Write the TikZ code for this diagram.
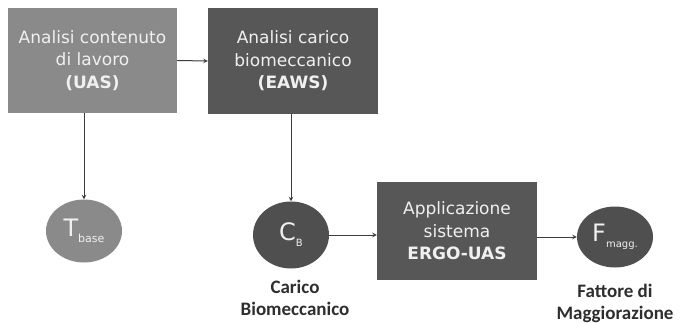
\documentclass[tikz,border=0pt]{standalone}
\usepackage{fontspec}
\setmainfont{DejaVu Sans}
\newfontfamily\labelfont{Carlito}
\usetikzlibrary{shapes.geometric}
\definecolor{lightgray}{HTML}{8A8A8A}
\definecolor{darkgray}{HTML}{575757}
\definecolor{arrowgray}{HTML}{3C3C3C}
\definecolor{labelgray}{HTML}{2E2E2E}
\tikzset{
  stepbox/.style={rectangle, align=center, text=white!94!black,
    font=\fontsize{17}{22.5}\selectfont, inner sep=0pt},
  valnode/.style={ellipse, minimum width=76pt, minimum height=63pt,
    text=white!94!black, inner sep=0pt},
  caption/.style={align=center, text=labelgray,
    font=\labelfont\bfseries\fontsize{19}{22}\selectfont},
  flow/.style={->, >=stealth, draw=arrowgray, line width=1pt}
}
\begin{document}
\begin{tikzpicture}
  \useasboundingbox (0,0) rectangle (682pt,-323pt);

  % Analysis boxes (top row)
  \node[stepbox, fill=lightgray, minimum width=169pt, minimum height=105pt]
    (uas) at (92.5pt,-60.5pt) {Analisi contenuto\\di lavoro\\\textbf{(UAS)}};
  \node[stepbox, fill=darkgray, minimum width=170pt, minimum height=106pt]
    (eaws) at (293pt,-61pt) {Analisi carico\\biomeccanico\\\textbf{(EAWS)}};

  % ERGO-UAS box
  \node[stepbox, fill=darkgray, minimum width=160pt, minimum height=98pt]
    (ergo) at (457pt,-231pt) {Applicazione\\sistema\\\textbf{ERGO-UAS}};

  % Values (ellipses)
  \node[valnode, fill=lightgray] (tbase) at (84pt,-231pt)
    {\fontsize{24}{24}\selectfont T\raisebox{-0.45ex}{\fontsize{11}{11}\selectfont base}};
  \node[valnode, fill=darkgray!105!white, minimum height=67pt] (cb) at (291pt,-235pt)
    {\fontsize{24}{24}\selectfont C\raisebox{-0.45ex}{\fontsize{10}{10}\selectfont B}};
  \node[valnode, fill=darkgray!105!white, minimum height=61pt] (fmagg) at (615pt,-237pt)
    {\fontsize{24}{24}\selectfont F\raisebox{-0.45ex}{\fontsize{10}{10}\selectfont magg.}};

  % Captions
  \node[caption] (cbtext) at (295pt,-298pt) {Carico\\Biomeccanico};
  \node[caption] (fmtext) at (615pt,-303pt) {Fattore di\\Maggiorazione};

  % Arrows
  \draw[flow] (uas.east) -- (eaws.west);
  \draw[flow] (tbase |- uas.south) -- (tbase.north);
  \draw[flow] (cb |- eaws.south) -- (cb.north);
  \draw[flow] (cb.east) -- (ergo.west |- cb.east);
  \draw[flow] (ergo.east |- fmagg.west) -- (fmagg.west);
\end{tikzpicture}
\end{document}
